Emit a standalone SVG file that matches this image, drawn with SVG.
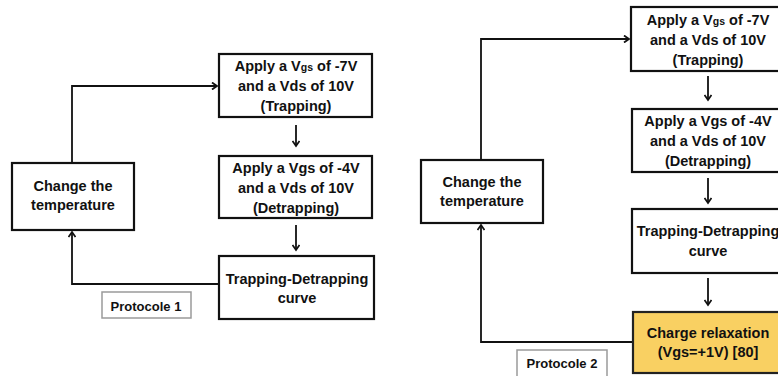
<svg xmlns="http://www.w3.org/2000/svg" width="778" height="376" viewBox="0 0 778 376">
<style>
.box{fill:#fff;stroke:#111;stroke-width:2.2}
.hot{fill:#F9D062;stroke:#222;stroke-width:2.2}
.tag{fill:#fff;stroke:#9a9a9a;stroke-width:1.5}
.t{font-family:"Liberation Sans",Arial,sans-serif;font-weight:bold;font-size:14.5px;fill:#111;text-anchor:middle}
.s{font-size:10.5px}
.p{font-family:"Liberation Sans",Arial,sans-serif;font-weight:bold;font-size:13px;fill:#111;text-anchor:middle}
.c{fill:none;stroke:#111;stroke-width:1.8}
</style>
<defs>
<marker id="ah" markerWidth="8" markerHeight="8" refX="6" refY="4" orient="auto" markerUnits="userSpaceOnUse">
<path d="M1,0.5 L6,4 L1,7.5" fill="none" stroke="#111" stroke-width="1.8"/>
</marker>
</defs>
<rect width="778" height="376" fill="#fff"/>

<g id="connectors">
<path class="c" d="M72,163 V86 H217" marker-end="url(#ah)"/>
<path class="c" d="M296,125 V146" marker-end="url(#ah)"/>
<path class="c" d="M296,225 V250" marker-end="url(#ah)"/>
<path class="c" d="M219,284 H72 V232" marker-end="url(#ah)"/>
<path class="c" d="M481,160 V39 H629" marker-end="url(#ah)"/>
<path class="c" d="M708,76 V100" marker-end="url(#ah)"/>
<path class="c" d="M708,178 V203" marker-end="url(#ah)"/>
<path class="c" d="M708,278 V305" marker-end="url(#ah)"/>
<path class="c" d="M633,342 H481 V225" marker-end="url(#ah)"/>
</g>

<g id="p1-trap">
<rect class="box" x="219" y="54" width="153" height="63"/>
<text class="t" x="296" y="71">Apply a V<tspan class="s">gs</tspan> of -7V</text>
<text class="t" x="296" y="91">and a Vds of 10V</text>
<text class="t" x="296" y="111">(Trapping)</text>
</g>
<g id="p1-detrap">
<rect class="box" x="219" y="156" width="153" height="62"/>
<text class="t" x="296" y="173">Apply a Vgs of -4V</text>
<text class="t" x="296" y="193">and a Vds of 10V</text>
<text class="t" x="296" y="213">(Detrapping)</text>
</g>
<g id="p1-curve">
<rect class="box" x="219" y="256" width="155" height="63"/>
<text class="t" x="297" y="284">Trapping-Detrapping</text>
<text class="t" x="297" y="303">curve</text>
</g>
<g id="p1-temp">
<rect class="box" x="12" y="163" width="122" height="67"/>
<text class="t" x="73" y="191">Change the</text>
<text class="t" x="73" y="210">temperature</text>
</g>
<g id="p1-label">
<rect class="tag" x="102" y="292" width="89" height="26"/>
<text class="p" x="146" y="311">Protocole 1</text>
</g>

<g id="p2-trap">
<rect class="box" x="631" y="7" width="155" height="64"/>
<text class="t" x="708" y="25">Apply a V<tspan class="s">gs</tspan> of -7V</text>
<text class="t" x="708" y="45">and a Vds of 10V</text>
<text class="t" x="708" y="65">(Trapping)</text>
</g>
<g id="p2-detrap">
<rect class="box" x="632" y="109" width="155" height="63"/>
<text class="t" x="708" y="126">Apply a Vgs of -4V</text>
<text class="t" x="708" y="146">and a Vds of 10V</text>
<text class="t" x="708" y="166">(Detrapping)</text>
</g>
<g id="p2-curve">
<rect class="box" x="632" y="209" width="155" height="64"/>
<text class="t" x="708" y="236">Trapping-Detrapping</text>
<text class="t" x="708" y="256">curve</text>
</g>
<g id="p2-relax">
<rect class="hot" x="633" y="312" width="155" height="61"/>
<text class="t" x="708" y="338">Charge relaxation</text>
<text class="t" x="708" y="357">(Vgs=+1V) [80]</text>
</g>
<g id="p2-temp">
<rect class="box" x="421" y="160" width="122" height="63"/>
<text class="t" x="482" y="187">Change the</text>
<text class="t" x="482" y="206">temperature</text>
</g>
<g id="p2-label">
<rect class="tag" x="517" y="350" width="90" height="30"/>
<text class="p" x="562" y="368">Protocole 2</text>
</g>
</svg>
